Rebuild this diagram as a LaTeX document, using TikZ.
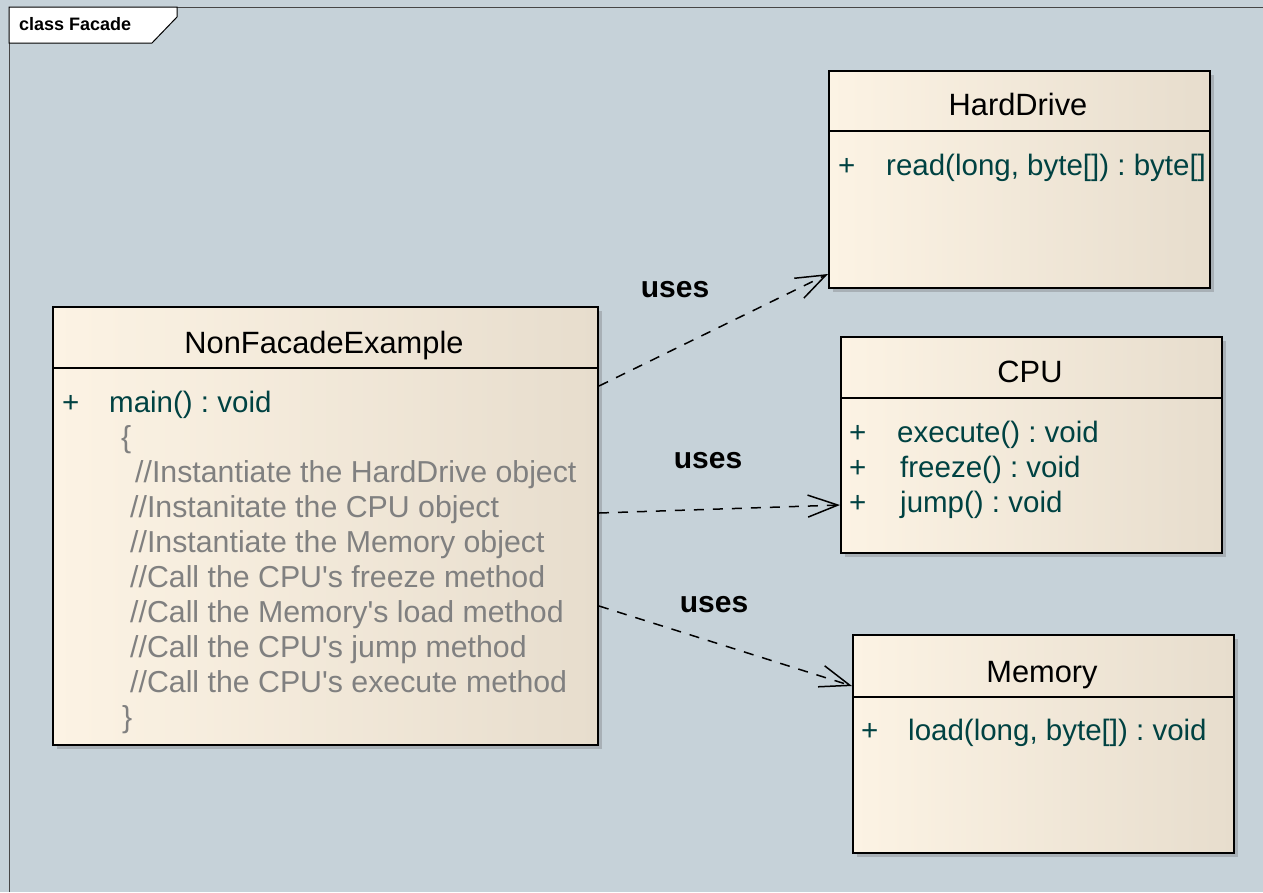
\documentclass[tikz,border=0pt]{standalone}
\usepackage{fontspec}
\setmainfont{Liberation Sans}[Ligatures=TeXOff]
\usetikzlibrary{arrows.meta,calc}
\definecolor{bg}{RGB}{198,210,217}
\definecolor{boxL}{RGB}{252,243,228}
\definecolor{boxR}{RGB}{231,221,205}
\definecolor{shadowc}{RGB}{168,176,182}
\definecolor{member}{RGB}{0,66,66}
\definecolor{comment}{RGB}{128,128,128}
\definecolor{framec}{RGB}{70,70,70}
\frenchspacing
\tikzset{
  classbox/.style={draw=black, line width=2pt, left color=boxL, middle color=boxL, right color=boxR,
    rectangle, inner sep=0pt, anchor=north west},
  shadowbox/.style={fill=shadowc},
  sepline/.style={line width=1.6pt, black},
  title/.style={anchor=base, inner sep=0pt, font=\fontsize{30.8}{36}\selectfont, text=black},
  plus/.style={anchor=base west, inner sep=0pt, font=\fontsize{29.5}{35}\selectfont, text=member},
  memb/.style={anchor=base west, inner sep=0pt, font=\fontsize{29.5}{35}\selectfont, text=member},
  cmt/.style={anchor=base west, inner sep=0pt, font=\fontsize{30.3}{35}\selectfont, text=comment},
  uses/.style={draw=black, line width=1.5pt, dash pattern=on 10pt off 9pt,
    -{Straight Barb[length=30pt, width=22pt, line width=1.5pt]}},
  useslabel/.style={anchor=center, inner sep=0pt, font=\fontsize{30}{36}\selectfont\bfseries, text=black}
}
\begin{document}
\begin{tikzpicture}[x=1pt, y=-1pt]
\fill[bg] (0,0) rectangle (1263,892);
\useasboundingbox (0,0) rectangle (1263,892);

% frame
\draw[framec, line width=1pt] (9,892) -- (9,7) -- (1263,7);
\filldraw[fill=white, draw=black, line width=1pt] (9,7) -- (177,7) -- (177,17) -- (152,43) -- (9,43) -- cycle;
\node[anchor=base west, inner sep=0pt, font=\fontsize{18}{20}\selectfont\bfseries] (frametitle) at (19,30) {class Facade};

% HardDrive
\fill[shadowbox] (833,75) rectangle (1214,292);
\node[classbox, minimum width=381pt, minimum height=217pt] (hd) at (828,70) {};
\draw[sepline] ($(hd.north west)+(0,61)$) -- ($(hd.north east)+(0,61)$);
\node[title] (hdt) at (1018,115) {HardDrive};
\node[plus] (hdp) at (838,175) {+};
\node[memb] (hdm) at (886,175) {read(long, byte[]) : byte[]};

% NonFacadeExample
\fill[shadowbox] (57,311) rectangle (602,749);
\node[classbox, minimum width=545pt, minimum height=438pt] (nfe) at (52,306) {};
\draw[sepline] ($(nfe.north west)+(0,62)$) -- ($(nfe.north east)+(0,62)$);
\node[title] (nfet) at (324,353) {NonFacadeExample};
\node[plus] (nfep) at (62,412) {+};
\node[memb] (nfem) at (109,412) {main() : void};
\node[cmt] (c0) at (121,447) {\{};
\node[cmt] (c1) at (135,482) {//Instantiate the HardDrive object};
\node[cmt] (c2) at (130,517) {//Instanitate the CPU object};
\node[cmt] (c3) at (130,552) {//Instantiate the Memory object};
\node[cmt] (c4) at (130,587) {//Call the CPU's freeze method};
\node[cmt] (c5) at (130,622) {//Call the Memory's load method};
\node[cmt] (c6) at (130,657) {//Call the CPU's jump method};
\node[cmt] (c7) at (130,692) {//Call the CPU's execute method};
\node[cmt] (c8) at (122,727) {\}};

% CPU
\fill[shadowbox] (845,341) rectangle (1226,557);
\node[classbox, minimum width=381pt, minimum height=216pt] (cpu) at (840,336) {};
\draw[sepline] ($(cpu.north west)+(0,62)$) -- ($(cpu.north east)+(0,62)$);
\node[title] (cput) at (1030,382) {CPU};
\node[plus] (cpup1) at (849,442) {+};
\node[memb] (cpum1) at (897,442) {execute() : void};
\node[plus] (cpup2) at (849,477) {+};
\node[memb] (cpum2) at (900,477) {freeze() : void};
\node[plus] (cpup3) at (849,512) {+};
\node[memb] (cpum3) at (900,512) {jump() : void};

% Memory
\fill[shadowbox] (857,639) rectangle (1238,857);
\node[classbox, minimum width=381pt, minimum height=218pt] (mem) at (852,634) {};
\draw[sepline] ($(mem.north west)+(0,63)$) -- ($(mem.north east)+(0,63)$);
\node[title] (memt) at (1042,682) {Memory};
\node[plus] (memp) at (861,740) {+};
\node[memb] (memm) at (908,740) {load(long, byte[]) : void};

% connectors
\draw[uses] ($(nfe.north east)+(0,80)$) -- ($(hd.south west)+(0,-15)$);
\draw[uses] ($(nfe.north east)+(0,207)$) -- ($(cpu.north west)+(0,169)$);
\draw[uses] ($(nfe.north east)+(0,300)$) -- ($(mem.north west)+(0,52)$);

\node[useslabel] (u1) at (675,290) {uses};
\node[useslabel] (u2) at (708,461) {uses};
\node[useslabel] (u3) at (714,605) {uses};
\end{tikzpicture}
\end{document}
